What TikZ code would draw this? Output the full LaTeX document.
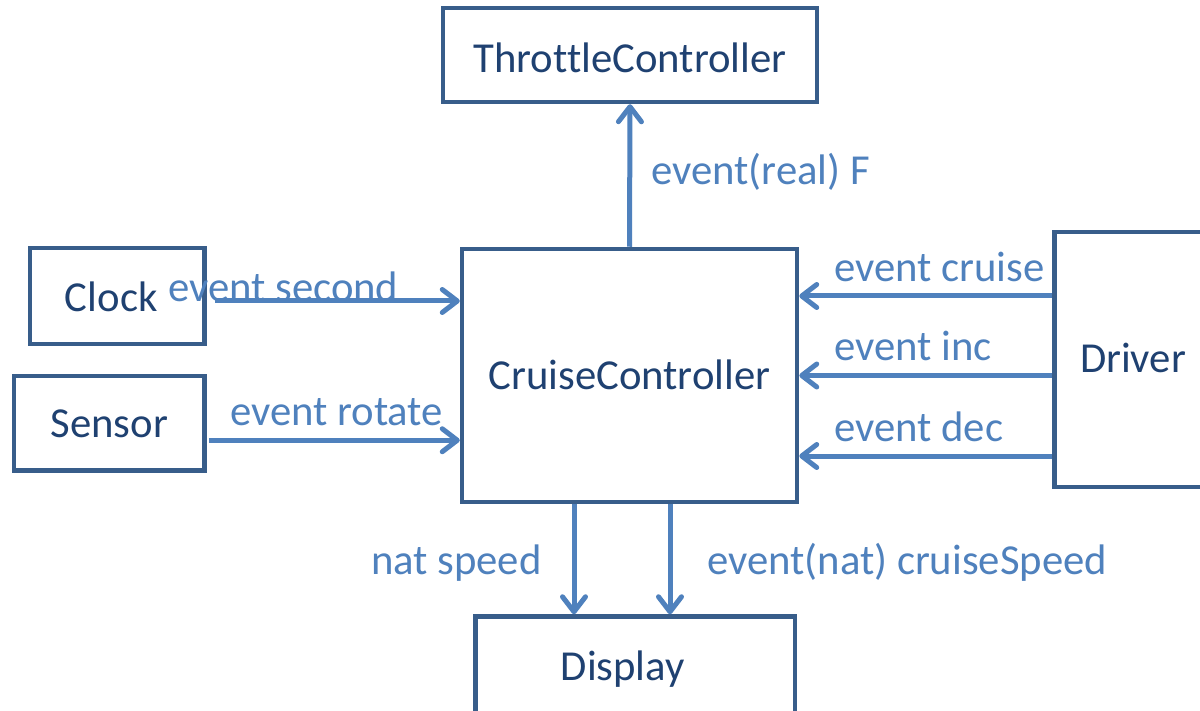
\documentclass[tikz,border=0pt]{standalone}
\usepackage{fontspec}
\setmainfont{Carlito}[Ligatures={NoCommon}]
\usetikzlibrary{arrows.meta}
\definecolor{boxline}{HTML}{385D8A}
\definecolor{boxtext}{HTML}{1F4171}
\definecolor{flow}{HTML}{4F81BD}
\begin{document}
\begin{tikzpicture}[x=1pt,y=-1pt,
  every node/.style={font=\fontsize{42.7}{50}\selectfont},
  block/.style={draw=boxline, line width=4.5pt, rectangle, text=boxtext,
    text height=27pt, text depth=0pt, inner sep=0pt},
  blocktext/.style={text=boxtext, text height=27pt, text depth=0pt, inner sep=0pt},
  flowarrow/.style={draw=flow, line width=5pt,
    -{Straight Barb[length=15pt,width=23pt,line cap=round,line join=round]}},
  flowlabel/.style={text=flow, anchor=base west, inner sep=0pt},
]
\path[use as bounding box, clip] (0,0) rectangle (1200,711);
\fill[white] (0,0) rectangle (1200,711);

% components
\node[block, text height=36pt, minimum width=374pt, minimum height=94pt] (tc) at (630,55) {ThrottleController};
\node[block, minimum width=335pt, minimum height=253pt] (cc) at (629.5,375.5) {CruiseController};
\node[block, minimum width=174.5pt, minimum height=96pt,
  label={[blocktext, text height=32pt, xshift=-6pt]center:Clock}] (clock) at (117.25,296) {};
\node[block, text height=27.5pt, minimum width=190.5pt, minimum height=94.5pt] (sensor) at (109.25,423.25) {Sensor};
\node[block, minimum width=157pt, minimum height=255pt] (driver) at (1133,359.5) {Driver};
\node[block, minimum width=319.5pt, minimum height=100pt,
  label={[blocktext, xshift=-12.5pt]center:Display}] (display) at (635.25,666.5) {};

% output to the throttle
\draw[flowarrow] (cc.north) -- (tc.south);
\node[flowlabel] (lthrottle) at (651,185) {event(real) F};

% inputs from clock and sensor
\draw[flowarrow] ([xshift=8.5pt,yshift=-5pt]clock.east) coordinate (c1) -- (c1 -| cc.west);
\node[flowlabel] (lsecond) at (168,302) {event second};
\draw[flowarrow] ([xshift=2pt,yshift=-17pt]sensor.east) coordinate (s1) -- (s1 -| cc.west);
\node[flowlabel] (lrotate) at (230,425) {event rotate};

% inputs from the driver
\draw[flowarrow] ([yshift=63.5pt]driver.west) coordinate (d1) -- (d1 -| cc.east);
\draw[flowarrow] ([yshift=-16pt]driver.west) coordinate (d2) -- (d2 -| cc.east);
\draw[flowarrow] ([yshift=-96.5pt]driver.west) coordinate (d3) -- (d3 -| cc.east);
\node[flowlabel] (lcruise) at (834,282) {event cruise};
\node[flowlabel] (linc) at (834,361) {event inc};
\node[flowlabel] (ldec) at (834,441) {event dec};

% outputs to the display
\draw[flowarrow] ([xshift=-55.5pt]cc.south) coordinate (o1) -- (o1 |- display.north);
\draw[flowarrow] ([xshift=40.5pt]cc.south) coordinate (o2) -- (o2 |- display.north);
\node[flowlabel] (lspeed) at (371,574) {nat speed};
\node[flowlabel] (lcruisespeed) at (707,574) {event(nat) cruiseSpeed};
\end{tikzpicture}
\end{document}
